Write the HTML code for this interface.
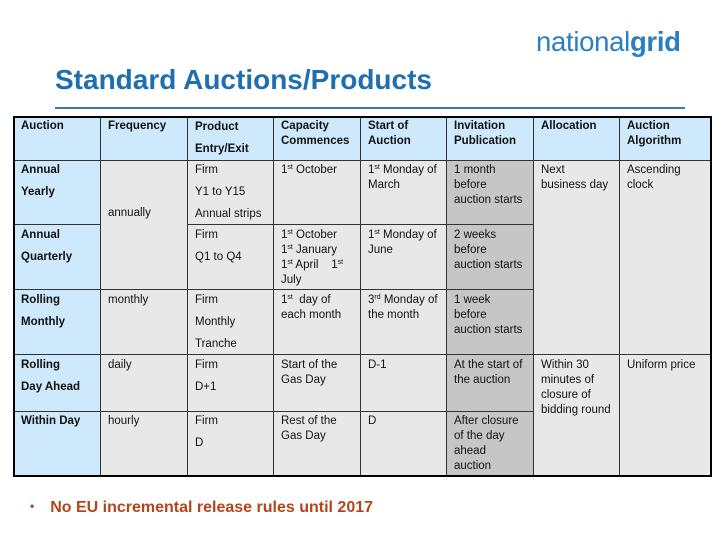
<!DOCTYPE html>
<html><head><meta charset="utf-8"><style>
body{margin:0;width:720px;height:540px;background:#fff;position:relative;overflow:hidden;font-family:"Liberation Sans",Arial,sans-serif}
.c{position:absolute;box-sizing:border-box;border-right:1px solid #333;border-bottom:1px solid #333}
.b{background:#cde9fb}.g{background:#e8e8e8}.d{background:#c6c6c6}
.t{position:absolute;font-size:11.5px;line-height:15px;color:#111;white-space:nowrap}
.s{line-height:22px}
.h{font-weight:bold}
sup{font-size:7px;vertical-align:4px;line-height:0}
</style></head><body>
<div style="position:absolute;left:536px;top:26px;font-size:27.5px;color:#2a7fc0;letter-spacing:-0.3px">national<b>grid</b></div>
<div style="position:absolute;left:55px;top:64px;font-size:28px;font-weight:bold;color:#1f6fb0">Standard Auctions/Products</div>
<div style="position:absolute;left:55px;top:107px;width:630px;height:2px;background:#3b78ad"></div>

<div id="cells"></div>
<div style="position:absolute;left:13px;top:116px;width:699px;height:361px;box-sizing:border-box;border:2px solid #000"></div>

<div style="position:absolute;left:30px;top:499px;font-size:16px;font-weight:bold;color:#b5441c"><span style="font-size:12px;vertical-align:2px">•</span><span style="margin-left:16px">No EU incremental release rules until 2017</span></div>

<script>
const xs=[14,101,188,274,361,447,534,620,712];
const ys=[117,161,225,290,355,412,476];
const host=document.body;
function cell(c0,c1,r0,r1,cls,name){
  const d=document.createElement('div');
  d.className='c '+cls;
  
  
  d.style.left=xs[c0]+'px';d.style.top=ys[r0]+'px';
  d.style.width=(xs[c1]-xs[c0])+'px';d.style.height=(ys[r1]-ys[r0])+'px';
  host.insertBefore(d,document.getElementById('cells'));
}
function txt(c,top,html,cls){
  const d=document.createElement('div');
  d.className='t '+(cls||'');
  
  
  d.style.left=(xs[c]+7)+'px';d.style.top=top+'px';
  d.innerHTML=html;
  host.insertBefore(d,document.getElementById('cells'));
}
for(let c=0;c<8;c++)cell(c,c+1,0,1,'b','header-cell');
for(let r=1;r<6;r++)cell(0,1,r,r+1,'b','auction-cell');
cell(1,2,1,3,'g','freq-cell');cell(1,2,3,4,'g','freq-cell');cell(1,2,4,5,'g','freq-cell');cell(1,2,5,6,'g','freq-cell');
for(let r=1;r<6;r++){cell(2,3,r,r+1,'g','product-cell');cell(3,4,r,r+1,'g','capacity-cell');cell(4,5,r,r+1,'g','start-cell');cell(5,6,r,r+1,'d','invitation-cell');}
cell(6,7,1,4,'g','allocation-cell');cell(6,7,4,6,'g','allocation-cell');
cell(7,8,1,4,'g','algorithm-cell');cell(7,8,4,6,'g','algorithm-cell');

txt(0,119,'Auction','h');txt(1,119,'Frequency','h');txt(2,116,'Product<br>Entry/Exit','h s');
txt(3,119,'Capacity<br>Commences','h');txt(4,119,'Start of<br>Auction','h');
txt(5,119,'Invitation<br>Publication','h');txt(6,119,'Allocation','h');txt(7,119,'Auction<br>Algorithm','h');
txt(0,159,'Annual<br>Yearly','h s');txt(1,206,'annually');
txt(2,159,'Firm<br>Y1 to Y15<br>Annual strips','s');
txt(3,163,'1<sup>st</sup> October');txt(4,163,'1<sup>st</sup> Monday of<br>March');
txt(5,163,'1 month<br>before<br>auction starts');txt(6,163,'Next<br>business day');txt(7,163,'Ascending<br>clock');
txt(0,224,'Annual<br>Quarterly','h s');txt(2,224,'Firm<br>Q1 to Q4','s');
txt(3,228,'1<sup>st</sup> October<br>1<sup>st</sup> January<br>1<sup>st</sup> April &nbsp;&nbsp;&nbsp;1<sup>st</sup><br>July');
txt(4,228,'1<sup>st</sup> Monday of<br>June');txt(5,228,'2 weeks<br>before<br>auction starts');
txt(0,289,'Rolling<br>Monthly','h s');txt(1,293,'monthly');txt(2,289,'Firm<br>Monthly<br>Tranche','s');
txt(3,293,'1<sup>st</sup>&nbsp; day of<br>each month');txt(4,293,'3<sup>rd</sup> Monday of<br>the month');
txt(5,293,'1 week<br>before<br>auction starts');
txt(0,354,'Rolling<br>Day Ahead','h s');txt(1,358,'daily');txt(2,354,'Firm<br>D+1','s');
txt(3,358,'Start of the<br>Gas Day');txt(4,358,'D-1');txt(5,358,'At the start of<br>the auction');
txt(6,358,'Within 30<br>minutes of<br>closure of<br>bidding round');txt(7,358,'Uniform price');
txt(0,410,'Within Day','h s');txt(1,414,'hourly');txt(2,410,'Firm<br>D','s');
txt(3,414,'Rest of the<br>Gas Day');txt(4,414,'D');txt(5,414,'After closure<br>of the day<br>ahead<br>auction');
</script>
</body></html>
